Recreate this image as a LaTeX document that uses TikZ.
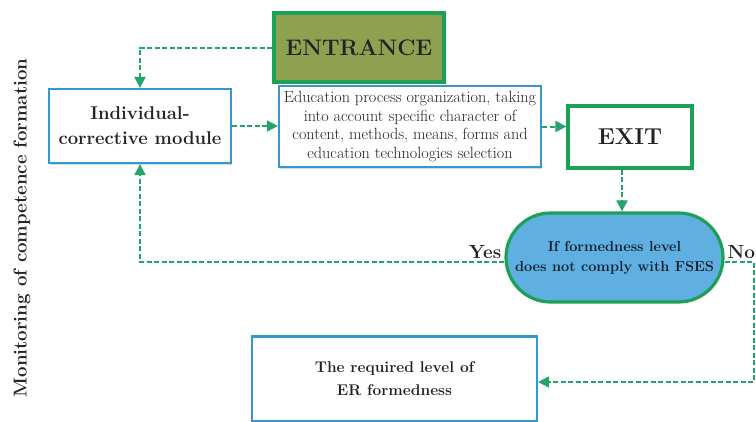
\documentclass[tikz,border=0pt]{standalone}
\usepackage{tikz}
\usetikzlibrary{arrows.meta,shapes.misc,shadows}
\definecolor{mygreen}{RGB}{28,160,85}
\definecolor{myolive}{RGB}{143,160,80}
\definecolor{myblue}{RGB}{55,150,205}
\definecolor{mysky}{RGB}{95,175,225}
\definecolor{mytext}{RGB}{35,35,35}
\definecolor{myline}{RGB}{35,165,105}

\tikzset{
    bluebox/.style={draw=myblue, line width=2.2pt, fill=white, align=center, inner sep=0pt, text=mytext,
        drop shadow={shadow xshift=1pt, shadow yshift=-2pt, opacity=0.3, fill=myblue!60!gray}},
    greenbox/.style={draw=mygreen, line width=3.2pt, align=center, inner sep=0pt, text=mytext},
    flowline/.style={myline, line width=2pt, dash pattern=on 5pt off 2.5pt, -{Triangle[length=11pt,width=11pt]}},
    answer/.style={font=\fontsize{19}{22}\selectfont\bfseries, text=mytext, inner sep=2pt}
}

\begin{document}
\begin{tikzpicture}[x=1pt, y=-1pt]
    \useasboundingbox (0, 0) rectangle (756, 421);
    % Boxes
    \node[greenbox, fill=myolive, minimum width=170pt, minimum height=69pt,
        font=\fontsize{22.5}{26}\selectfont\bfseries] (Entrance) at (359, 47.5) {ENTRANCE};
    \node[bluebox, minimum width=182pt, minimum height=74pt,
        font=\fontsize{18.5}{25}\selectfont\bfseries] (Module) at (140, 126) {Individual-\\corrective module};
    \node[bluebox, minimum width=262pt, minimum height=81pt,
        font=\fontsize{16.2}{18.5}\selectfont] (Process) at (410, 126.5) {Education process organization, taking\\into account specific character of\\content, methods, means, forms and\\education technologies selection};
    \node[greenbox, fill=white, minimum width=124pt, minimum height=62pt,
        font=\fontsize{23}{26}\selectfont\bfseries] (Exit) at (630, 137) {EXIT};
    \node[greenbox, rounded rectangle, fill=mysky, minimum width=217pt, minimum height=89pt,
        text=myblue!20!black, font=\fontsize{14.5}{20}\selectfont\bfseries] (Decision) at (614.5, 257.5) {If formedness level\\does not comply with FSES};
    \node[bluebox, minimum width=285pt, minimum height=85pt,
        font=\fontsize{15.5}{23}\selectfont\bfseries] (Required) at (394.5, 379) {The required level of\\ER formedness};
    % Side title
    \node[rotate=90, text=mytext, font=\fontsize{18.7}{22}\selectfont\bfseries] (Monitor) at (22, 228) {Monitoring of competence formation};
    \coordinate (NoTurn) at (754, 382);
    % Connectors
    \draw[flowline] (Entrance.west) -| (Module.north);
    \draw[flowline] (Module.east) -- (Module.east -| Process.west);
    \draw[flowline] (Process.east) -- (Process.east -| Exit.west);
    \draw[flowline] ([xshift=-8pt]Exit.south) -- ([xshift=-8pt]Exit.south |- Decision.north);
    \draw[flowline] ([yshift=-4.5pt]Decision.west) node[answer, anchor=south east] (Yes) {Yes}
        -| (Module.south);
    \draw[flowline] ([yshift=-4.5pt]Decision.east) node[answer, anchor=south west] (No) {No}
        -| (NoTurn) -- (NoTurn -| Required.east);
\end{tikzpicture}
\end{document}
